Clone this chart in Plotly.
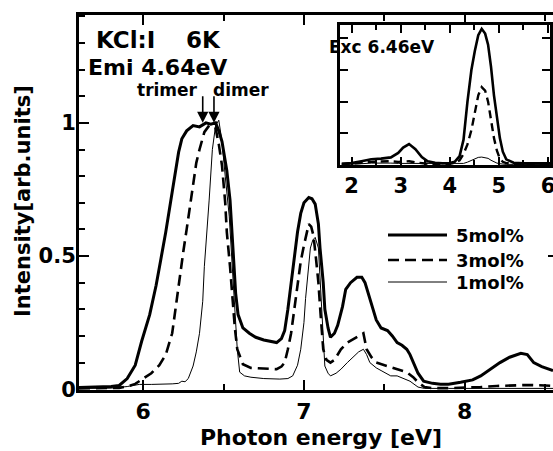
import plotly.graph_objects as go

# ---------------- main spectra (excitation spectra) ----------------
x_5 = [5.6, 5.7, 5.8, 5.85, 5.9, 5.95, 5.99, 6.04, 6.08, 6.11, 6.14, 6.18, 6.22, 6.24, 6.27, 6.31,
       6.35, 6.39, 6.42, 6.45, 6.47, 6.49, 6.52, 6.54, 6.56, 6.575, 6.59, 6.62, 6.66, 6.70, 6.75,
       6.80, 6.83, 6.86, 6.88, 6.90, 6.92, 6.94, 6.96, 6.98, 7.00, 7.03, 7.05, 7.07, 7.09, 7.10,
       7.12, 7.13, 7.15, 7.165, 7.19, 7.21, 7.24, 7.26, 7.29, 7.33, 7.36, 7.38, 7.41, 7.45, 7.48,
       7.52, 7.55, 7.58, 7.61, 7.64, 7.66, 7.68, 7.71, 7.745, 7.8, 7.85, 7.9, 7.975, 8.05, 8.10,
       8.16, 8.22, 8.28, 8.35, 8.39, 8.43, 8.48, 8.52, 8.55]
y_5 = [0.006, 0.007, 0.01, 0.014, 0.04, 0.09, 0.18, 0.28, 0.39, 0.49, 0.59, 0.74, 0.89, 0.94, 0.97, 0.99,
       0.985, 1.0, 0.995, 1.0, 0.97, 0.93, 0.82, 0.71, 0.50, 0.36, 0.28, 0.23, 0.21, 0.195, 0.185,
       0.18, 0.175, 0.19, 0.22, 0.30, 0.40, 0.50, 0.59, 0.66, 0.70, 0.72, 0.715, 0.695, 0.62, 0.53,
       0.40, 0.30, 0.23, 0.195, 0.21, 0.24, 0.31, 0.375, 0.40, 0.42, 0.42, 0.40, 0.34, 0.26, 0.23,
       0.22, 0.20, 0.175, 0.165, 0.15, 0.13, 0.10, 0.06, 0.03, 0.022, 0.019, 0.019, 0.026, 0.035, 0.05,
       0.075, 0.10, 0.12, 0.135, 0.13, 0.10, 0.085, 0.075, 0.07]

x_3 = [5.6, 5.75, 5.85, 5.9, 5.95, 6.0, 6.05, 6.10, 6.14, 6.18, 6.20, 6.22, 6.25, 6.27, 6.29, 6.31,
       6.33, 6.35, 6.38, 6.41, 6.45, 6.47, 6.49, 6.51, 6.52, 6.54, 6.555, 6.57, 6.585, 6.62, 6.67,
       6.71, 6.77, 6.83, 6.86, 6.88, 6.90, 6.92, 6.94, 6.96, 6.98, 7.00, 7.02, 7.03, 7.045, 7.06,
       7.075, 7.09, 7.105, 7.12, 7.14, 7.165, 7.19, 7.23, 7.27, 7.31, 7.35, 7.37, 7.39, 7.42, 7.45,
       7.50, 7.56, 7.60, 7.64, 7.68, 7.71, 7.75, 7.8, 7.9, 8.0, 8.1, 8.2, 8.3, 8.4, 8.5, 8.55]
y_3 = [0.003, 0.003, 0.005, 0.01, 0.02, 0.04, 0.06, 0.09, 0.13, 0.21, 0.30, 0.40, 0.52, 0.60, 0.69, 0.78,
       0.85, 0.90, 0.965, 0.99, 0.98, 0.92, 0.84, 0.70, 0.59, 0.46, 0.34, 0.23, 0.15, 0.094, 0.08,
       0.079, 0.077, 0.075, 0.085, 0.10, 0.15, 0.21, 0.30, 0.40, 0.48, 0.54, 0.60, 0.62, 0.61, 0.575,
       0.49, 0.40, 0.27, 0.15, 0.11, 0.10, 0.11, 0.15, 0.175, 0.19, 0.205, 0.21, 0.15, 0.12, 0.10,
       0.09, 0.08, 0.072, 0.064, 0.045, 0.026, 0.008, 0.004, 0.004, 0.005, 0.008, 0.012, 0.015, 0.016, 0.014, 0.012]

x_1 = [5.6, 5.8, 5.9, 5.975, 6.05, 6.12, 6.18, 6.22, 6.24, 6.26, 6.28, 6.31, 6.33, 6.35, 6.37, 6.38,
       6.40, 6.41, 6.43, 6.45, 6.47, 6.49, 6.51, 6.535, 6.55, 6.565, 6.585, 6.60, 6.63, 6.67, 6.75,
       6.85, 6.90, 6.93, 6.96, 6.98, 7.00, 7.01, 7.03, 7.04, 7.055, 7.07, 7.09, 7.10, 7.115, 7.13,
       7.15, 7.165, 7.20, 7.23, 7.27, 7.31, 7.34, 7.37, 7.39, 7.41, 7.45, 7.48, 7.54, 7.58, 7.62,
       7.66, 7.71, 7.75, 7.9, 8.1, 8.3, 8.55]
y_1 = [0.003, 0.004, 0.01, 0.018, 0.018, 0.018, 0.02, 0.022, 0.03, 0.028, 0.04, 0.087, 0.14, 0.21, 0.33, 0.46,
       0.62, 0.71, 0.90, 0.99, 1.01, 0.93, 0.80, 0.65, 0.50, 0.34, 0.15, 0.064, 0.05, 0.045, 0.04,
       0.038, 0.04, 0.05, 0.09, 0.15, 0.25, 0.34, 0.46, 0.53, 0.56, 0.57, 0.53, 0.43, 0.275, 0.087,
       0.06, 0.05, 0.06, 0.075, 0.10, 0.125, 0.14, 0.15, 0.13, 0.10, 0.08, 0.07, 0.05, 0.05, 0.04,
       0.03, 0.008, 0.003, 0.003, 0.003, 0.003, 0.003]

# ---------------- inset (emission spectra, Exc 6.46 eV) ----------------
x_inset = [1.8, 2.0, 2.2, 2.4, 2.6, 2.8, 2.95, 3.05, 3.17, 3.3, 3.43, 3.55, 3.7, 3.85, 4.0, 4.1, 4.2,
           4.28, 4.36, 4.44, 4.51, 4.58, 4.65, 4.72, 4.78, 4.84, 4.9, 4.96, 5.02, 5.08, 5.15, 5.3,
           5.5, 5.8, 6.05]
inset_5 = [0.04, 0.06, 0.12, 0.18, 0.20, 0.24, 0.38, 0.55, 0.66, 0.50, 0.25, 0.12, 0.07, 0.05, 0.06, 0.10, 0.28,
           0.80, 2.0, 3.0, 3.6, 4.1, 4.3, 4.15, 3.8, 3.1, 2.2, 1.5, 0.85, 0.42, 0.18, 0.07,
           0.05, 0.05, 0.05]
inset_3 = [0.03, 0.04, 0.07, 0.10, 0.12, 0.12, 0.10, 0.10, 0.12, 0.08, 0.05, 0.04, 0.03, 0.03, 0.04, 0.07, 0.15,
           0.35, 0.65, 1.1, 1.6, 2.2, 2.46, 2.35, 2.0, 1.4, 0.85, 0.45, 0.20, 0.10, 0.06, 0.04,
           0.03, 0.03, 0.03]
inset_1 = [0.02, 0.02, 0.04, 0.06, 0.07, 0.06, 0.05, 0.05, 0.05, 0.04, 0.03, 0.03, 0.03, 0.03, 0.03, 0.03, 0.03,
           0.05, 0.09, 0.15, 0.20, 0.24, 0.25, 0.24, 0.21, 0.15, 0.10, 0.06, 0.04, 0.03, 0.02, 0.02,
           0.02, 0.02, 0.02]

series_names = ["5mol%", "3mol%", "1mol%"]
arrow_energies = [6.37, 6.44]
arrow_labels = ["trimer", "dimer"]
main_ticks = [0, 0.5, 1]
main_ticktext = ["0", "0.5", "1"]

FONT = "DejaVu Sans"
styles = [dict(color="black", width=3), dict(color="black", width=2.6, dash="11px,6px"),
          dict(color="black", width=1)]
inset_styles = [dict(color="black", width=2.6), dict(color="black", width=2.4, dash="8px,5px"),
                dict(color="black", width=1)]

fig = go.Figure()
for xs, ys, nm, st in zip([x_5, x_3, x_1], [y_5, y_3, y_1], series_names, styles):
    fig.add_trace(go.Scatter(x=xs, y=ys, mode="lines", name=nm, line=st, showlegend=False,
                             xaxis="x", yaxis="y"))
for ys, nm, st in zip([inset_5, inset_3, inset_1], series_names, inset_styles):
    fig.add_trace(go.Scatter(x=x_inset, y=ys, mode="lines", name=nm, line=st, showlegend=False,
                             xaxis="x2", yaxis="y2"))
fig.add_trace(go.Scatter(x=[], y=[], xaxis="x", yaxis="y3", showlegend=False))

tickfont = dict(family=FONT, size=22, color="black", weight="bold")
fig.update_layout(
    width=553, height=451,
    margin=dict(l=79, r=0, t=15, b=61, autoexpand=False),
    paper_bgcolor="white", plot_bgcolor="white",
    showlegend=False,
    xaxis=dict(domain=[0, 1], range=[5.6, 8.55], showgrid=False, zeroline=False, automargin=False,
               showline=True, linewidth=3, linecolor="black", mirror="ticks",
               ticks="inside", ticklen=10, tickwidth=2, tickcolor="black", dtick=1, tick0=0,
               tickfont=tickfont,
               minor=dict(ticks="inside", ticklen=6, tickwidth=2, dtick=0.5, tick0=0, tickcolor="black")),
    yaxis=dict(domain=[0, 1], range=[-0.003, 1.405], showgrid=False, zeroline=False, automargin=False,
               showline=True, linewidth=3, linecolor="black", mirror=False,
               ticks="inside", ticklen=10, tickwidth=2, tickcolor="black",
               tickvals=main_ticks, ticktext=main_ticktext,
               tickfont=dict(family=FONT, size=21, color="black", weight="bold"),
               ticklabelstandoff=-4,
               minor=dict(ticks="inside", ticklen=6, tickwidth=2, tickvals=[i / 10 for i in range(15)],
                          tickcolor="black")),
    yaxis3=dict(overlaying="y", side="right", anchor="x", range=[-0.003, 1.405], showgrid=False,
                zeroline=False, showline=False, ticks="inside", ticklen=5, tickwidth=2, automargin=False,
                tickcolor="black", tickvals=main_ticks, showticklabels=False),
    xaxis2=dict(domain=[304 / 553, 550 / 553], anchor="y2", range=[1.755, 6.05], showgrid=False,
                zeroline=False, showline=True, linewidth=3, linecolor="black", mirror="ticks",
                ticks="inside", ticklen=8, tickwidth=2, tickcolor="black", dtick=1, tick0=0,
                automargin=False, ticklabeloverflow="allow",
                tickfont=dict(family=FONT, size=21, color="black", weight="bold"),
                minor=dict(ticks="inside", ticklen=5, tickwidth=2, dtick=0.5, tick0=0, tickcolor="black")),
    yaxis2=dict(domain=[0.6, 0.9733], anchor="x2", range=[0, 4.42], showgrid=False, zeroline=False,
                showline=True, linewidth=3, linecolor="black", mirror="ticks", automargin=False,
                ticks="inside", ticklen=8, tickwidth=2, tickcolor="black", dtick=1, tick0=0,
                showticklabels=False),
)

# inset background
fig.add_shape(type="rect", xref="x2 domain", yref="y2 domain", x0=0, x1=1, y0=0, y1=1,
              fillcolor="white", line=dict(width=0), layer="below")

def px_x(p):
    return (p - 79) / 474

def px_y(p):
    return (390 - p) / 375

annots = []
def txt(text, x, y, size, xanchor="left", angle=0):
    annots.append(dict(text=text, x=x, y=y, xref="paper", yref="paper", showarrow=False,
                       xanchor=xanchor, yanchor="middle", textangle=angle,
                       font=dict(family=FONT, size=size, color="black", weight="bold")))

txt("KCl:I", px_x(94), px_y(40), 23)
txt("6K", px_x(184), px_y(40), 23)
txt("Emi 4.64eV", px_x(86), px_y(67), 22)
txt(arrow_labels[0], px_x(135), px_y(90), 17)
txt(arrow_labels[1], px_x(211), px_y(90), 17)
txt("Exc 6.46eV", px_x(327), px_y(47), 17)
txt("Photon energy [eV]", px_x(321), px_y(437), 22, xanchor="center")
txt("Intensity[arb.units]", px_x(23), px_y(201), 21, xanchor="center", angle=-90)

# legend (drawn manually)
leg_y = [235, 260, 282]
for nm, st, ly in zip(series_names, styles, leg_y):
    fig.add_shape(type="line", xref="paper", yref="paper", x0=px_x(388), x1=px_x(447),
                  y0=px_y(ly), y1=px_y(ly), line=st)
    txt(nm, px_x(454), px_y(ly), 18)

# arrows
for e in arrow_energies:
    annots.append(dict(x=e, y=1.0, xref="x", yref="y", text="", showarrow=True, ax=0, ay=-28,
                       arrowhead=2, arrowsize=1.4, arrowwidth=1.6, arrowcolor="black"))

fig.update_layout(annotations=annots)
fig.write_html("out.html", config={"displayModeBar": False},
               post_script="document.body.style.margin='0';document.body.style.overflow='hidden';")
